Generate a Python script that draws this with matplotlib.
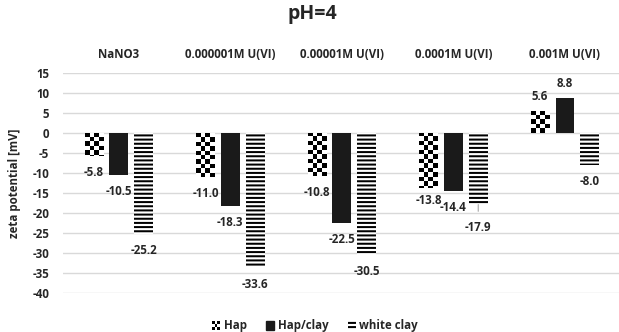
import numpy as np
import matplotlib

matplotlib.use("Agg")
import matplotlib.pyplot as plt
from matplotlib.patches import Rectangle
from matplotlib.legend_handler import HandlerBase

categories = ["NaNO3", "0.000001M U(VI)", "0.00001M U(VI)", "0.0001M U(VI)", "0.001M U(VI)"]
series_names = ["Hap", "Hap/clay", "white clay"]
hap = [-5.8, -11.0, -10.8, -13.8, 5.6]
hap_clay = [-10.5, -18.3, -22.5, -14.4, 8.8]
white_clay = [-25.2, -33.6, -30.5, -17.9, -8.0]
y_ticks = list(range(-40, 16, 5))

plt.rcParams["font.family"] = ["Open Sans", "DejaVu Sans"]
plt.rcParams["font.weight"] = "bold"
plt.rcParams["hatch.linewidth"] = 1.45
TEXT = "#262626"
FS = 8.3

W, H = 619, 332
fig = plt.figure(figsize=(W / 100, H / 100), dpi=100)
ax = fig.add_axes([63 / W, (H - 293) / H, 556 / W, 220 / H])

x = np.arange(len(categories))
step, width = 0.223, 0.168
cell_h = 1.1  # checker cell height in mV units


def checker(ax, bar):
    """Fill a bar with a black/white checkerboard, clipped to the bar."""
    x0, y0 = bar.get_x(), bar.get_y()
    w, h = bar.get_width(), bar.get_height()
    lo, hi = min(y0, y0 + h), max(y0, y0 + h)
    rows = int(np.ceil((hi - lo) / cell_h))
    cols = 4
    grid = (np.add.outer(np.arange(rows), np.arange(cols)) % 2).astype(float)
    top = hi if h < 0 else lo + rows * cell_h
    bottom = top - rows * cell_h
    im = ax.imshow(grid, cmap="gray", vmin=0, vmax=1, interpolation="nearest",
                   extent=[x0, x0 + w, bottom, top], aspect="auto", zorder=2,
                   origin="upper" if h < 0 else "lower")
    im.set_clip_path(bar)


bars_hap = ax.bar(x - step, hap, width, color="white", edgecolor="none", zorder=2)
for b in bars_hap:
    checker(ax, b)
bars_clay = ax.bar(x, hap_clay, width, color="#1a1a1a", zorder=2)
bars_white = ax.bar(x + step, white_clay, width, color="white", edgecolor="black",
                    linewidth=0, hatch="----", zorder=2)

# data labels; a couple were nudged so they do not collide
offsets = {(3, 0): -8.6, (3, 2): -16.5}
for j, (bars, vals) in enumerate([(bars_hap, hap), (bars_clay, hap_clay), (bars_white, white_clay)]):
    for i, (b, v) in enumerate(zip(bars, vals)):
        dy = offsets.get((i, j), -12 if v < 0 else 10.5)
        kw = {}
        if (i, j) == (3, 2):
            kw["arrowprops"] = dict(arrowstyle="-", color="#a6a6a6", lw=0.8,
                                    shrinkA=5, shrinkB=0)
        ax.annotate(f"{v:.1f}", xy=(b.get_x() + b.get_width() / 2, v),
                    xytext=(0, dy), textcoords="offset points", ha="center",
                    va="center", fontsize=FS, fontweight="bold", color=TEXT,
                    zorder=3, **kw)

ax.set_xlim(-0.5, 4.485)
ax.set_ylim(-40, 15)
ax.set_yticks(y_ticks)
ax.set_yticklabels([str(t) for t in y_ticks])
ax.yaxis.grid(True, color="#d9d9d9", lw=1)
ax.set_axisbelow(True)
for s in ax.spines.values():
    s.set_visible(False)
ax.tick_params(axis="y", length=0, pad=10, labelsize=FS, labelcolor=TEXT)

ax.xaxis.tick_top()
ax.set_xticks(x)
ax.set_xticklabels(categories)
ax.tick_params(axis="x", length=0, pad=8.5, labelsize=FS, labelcolor=TEXT)

fig.text(0.505, 1 - 14 / H, "pH=4", ha="center", va="center", fontsize=14,
         fontweight="bold", color=TEXT)
fig.text(15 / W, 1 - 183 / H, "zeta potential [mV]", rotation=90, ha="center",
         va="center", fontsize=FS, fontweight="bold", color=TEXT)


class CheckerHandler(HandlerBase):
    def create_artists(self, legend, orig, xd, yd, w, h, fontsize, trans):
        n = 3
        cw, ch = w / n, h / n
        arts = []
        for r in range(n):
            for c in range(n):
                if (r + c) % 2 == 0:
                    arts.append(Rectangle((-xd + c * cw, -yd + r * ch), cw, ch,
                                          facecolor="black", edgecolor="none",
                                          transform=trans))
        return arts


handles = [Rectangle((0, 0), 1, 1, color="white"),
           Rectangle((0, 0), 1, 1, color="#1a1a1a"),
           Rectangle((0, 0), 1, 1, facecolor="white", edgecolor="black",
                     linewidth=0, hatch="----")]
fig.legend(handles, series_names, loc="center", bbox_to_anchor=(315 / W, 1 - 326 / H),
           ncol=3, frameon=False, fontsize=FS, handlelength=0.7, handleheight=0.7,
           handletextpad=0.3, columnspacing=1.7, labelcolor=TEXT,
           handler_map={handles[0]: CheckerHandler()})

fig.savefig("out.png", dpi=100)
